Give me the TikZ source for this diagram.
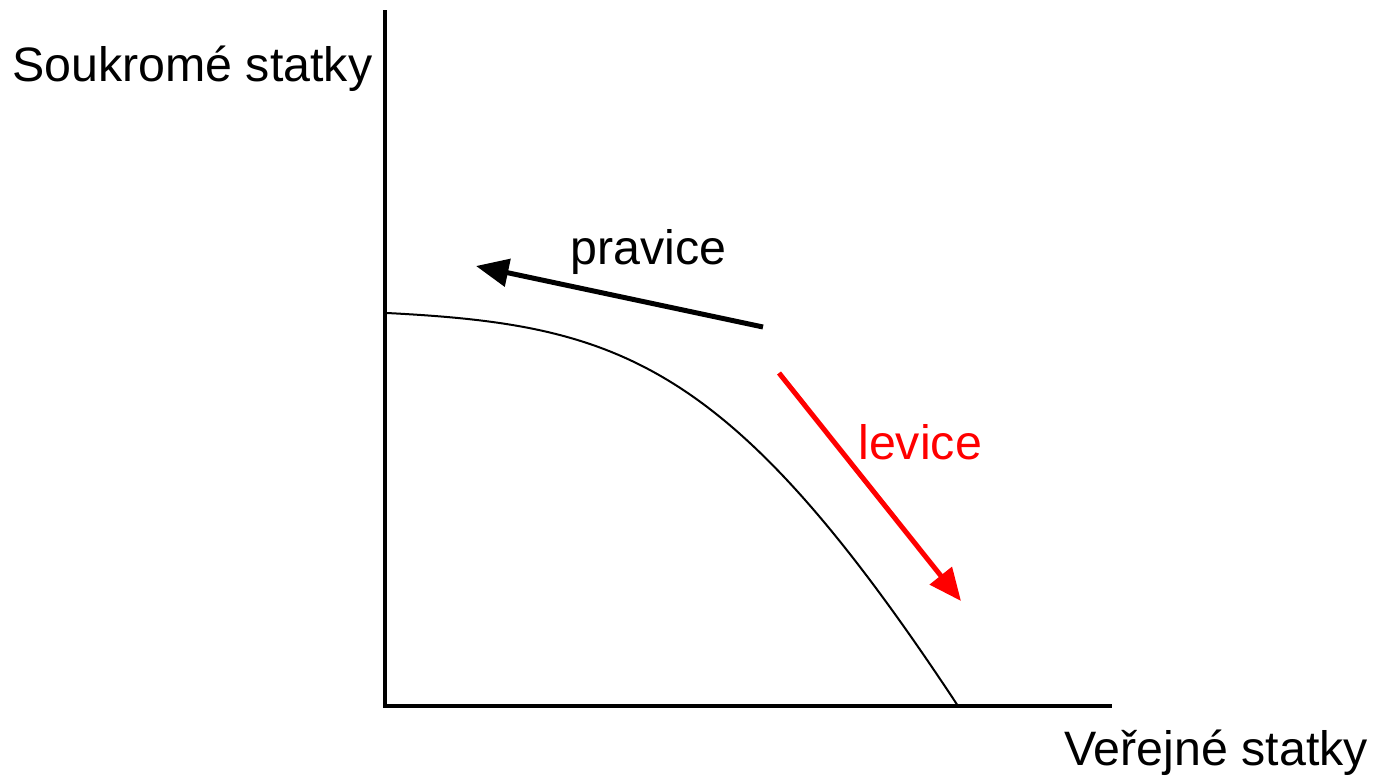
\documentclass[tikz,border=0pt]{standalone}
\usepackage{fontspec}
\setmainfont{Liberation Sans}
\usepackage{tikz}
\usetikzlibrary{positioning, calc, arrows.meta}
\definecolor{leftred}{HTML}{FF0000}

\begin{document}
\begin{tikzpicture}[
  x=0.2mm, y=-0.2mm,
  axis/.style={line width=0.8mm, line cap=rect},
  lab/.style={font=\fontsize{27.5pt}{32pt}\selectfont, inner sep=0pt, anchor=base west},
  shift/.style={line width=1mm, -{Triangle[length=6.5mm, width=5.5mm]}, color=#1}
]
  \useasboundingbox (0,0) rectangle (1373,776);

  % axes
  \coordinate (o) at (385,706);
  \coordinate (ytop) at (385,12);
  \coordinate (xend) at (1110,706);
  \draw[axis] (ytop) -- (o) -- (xend);

  % frontier
  \coordinate (fs) at (387,313);
  \coordinate (fe) at (958,706);
  \draw[line width=0.4mm] (fs) .. controls (620,325) and (730,360) .. (fe);

  % shifts
  \coordinate (rs) at (763,327);
  \coordinate (re) at (476,266);
  \draw[shift=black] (rs) -- (re);
  \coordinate (ls) at (779,373);
  \coordinate (le) at (961,601);
  \draw[shift=leftred] (ls) -- (le);

  % labels
  \node[lab] (ylab) at (12,81) {Soukromé statky};
  \node[lab] (xlab) at (1064,765) {Veřejné statky};
  \node[lab] (right) at (570,264) {pravice};
  \node[lab, text=leftred] (left) at (858,459) {levice};
\end{tikzpicture}
\end{document}
